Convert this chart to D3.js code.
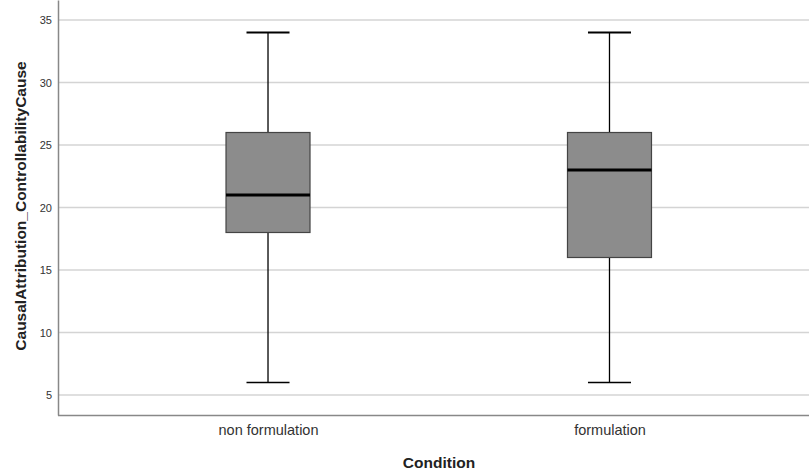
<!DOCTYPE html>
<html><head><meta charset="utf-8">
<script src="https://cdn.jsdelivr.net/npm/d3@7/dist/d3.min.js"></script>
<style>body{margin:0;background:#fff}svg{display:block}</style>
</head><body>
<svg id="c" width="809" height="474"></svg>
<script>
const categories = ["non formulation", "formulation"];
const whiskerLow = [6, 6];
const q1 = [18, 16];
const median = [21, 23];
const q3 = [26, 26];
const whiskerHigh = [34, 34];
const yTicks = [5, 10, 15, 20, 25, 30, 35];

(function () {
const svg = d3.select("#c");
const mLeft = 58, mRight = 819.5, mTop = 0, mBottom = 415;
const y = d3.scaleLinear().domain([3.4, 36.6]).range([mBottom, mTop]);
const x = d3.scalePoint().domain(categories).range([mLeft, mRight]).padding(0.615);
const step = x.step();
const boxW = step * 0.246, capW = step * 0.126;

// gridlines
svg.append("g").selectAll("line").data(yTicks).join("line")
  .attr("x1", mLeft).attr("x2", 809)
  .attr("y1", d => y(d)).attr("y2", d => y(d))
  .attr("stroke", "#d4d4d4").attr("stroke-width", 1.5);

// y axis
const ya = svg.append("g").attr("transform", `translate(${mLeft},0)`)
  .call(d3.axisLeft(y).tickValues(yTicks).tickSize(0).tickPadding(6));
ya.select(".domain").attr("stroke", "#888").attr("stroke-width", 1.5);
ya.selectAll("text").attr("font-family", "Liberation Sans, Arial, sans-serif")
  .attr("font-size", 11).attr("fill", "#333");

// x axis
const xa = svg.append("g").attr("transform", `translate(0,${mBottom})`)
  .call(d3.axisBottom(x).tickSize(0).tickPadding(10));
xa.select(".domain").attr("d", `M${mLeft},0.5H809`).attr("stroke", "#888").attr("stroke-width", 1.5);
xa.selectAll("text").attr("font-family", "Liberation Sans, Arial, sans-serif")
  .attr("font-size", 14.5).attr("fill", "#333");

const data = categories.map((c, i) => ({c, lo: whiskerLow[i], q1: q1[i], med: median[i], q3: q3[i], hi: whiskerHigh[i]}));
const g = svg.append("g").selectAll("g").data(data).join("g");

// whiskers
g.append("line").attr("x1", d => x(d.c)).attr("x2", d => x(d.c))
  .attr("y1", d => y(d.hi)).attr("y2", d => y(d.q3)).attr("stroke", "#000").attr("stroke-width", 1.3);
g.append("line").attr("x1", d => x(d.c)).attr("x2", d => x(d.c))
  .attr("y1", d => y(d.q1)).attr("y2", d => y(d.lo)).attr("stroke", "#000").attr("stroke-width", 1.3);
g.append("line").attr("x1", d => x(d.c) - capW/2).attr("x2", d => x(d.c) + capW/2)
  .attr("y1", d => y(d.hi)).attr("y2", d => y(d.hi)).attr("stroke", "#000").attr("stroke-width", 2);
g.append("line").attr("x1", d => x(d.c) - capW/2).attr("x2", d => x(d.c) + capW/2)
  .attr("y1", d => y(d.lo)).attr("y2", d => y(d.lo)).attr("stroke", "#000").attr("stroke-width", 1.5);

// boxes
g.append("rect").attr("x", d => x(d.c) - boxW/2).attr("width", boxW)
  .attr("y", d => y(d.q3)).attr("height", d => y(d.q1) - y(d.q3))
  .attr("fill", "#8c8c8c").attr("stroke", "#444").attr("stroke-width", 1.2);
g.append("line").attr("x1", d => x(d.c) - boxW/2).attr("x2", d => x(d.c) + boxW/2)
  .attr("y1", d => y(d.med)).attr("y2", d => y(d.med)).attr("stroke", "#000").attr("stroke-width", 3);

// titles
svg.append("text").attr("x", 439).attr("y", 468).attr("text-anchor", "middle")
  .attr("font-family", "Liberation Sans, Arial, sans-serif").attr("font-size", 15.5).attr("font-weight", "bold")
  .attr("fill", "#222").text("Condition");
svg.append("text").attr("transform", `translate(26,206) rotate(-90)`).attr("text-anchor", "middle")
  .attr("font-family", "Liberation Sans, Arial, sans-serif").attr("font-size", 15.5).attr("font-weight", "bold")
  .attr("fill", "#222").text("CausalAttribution_ControllabilityCause");
})();
</script>
</body></html>
